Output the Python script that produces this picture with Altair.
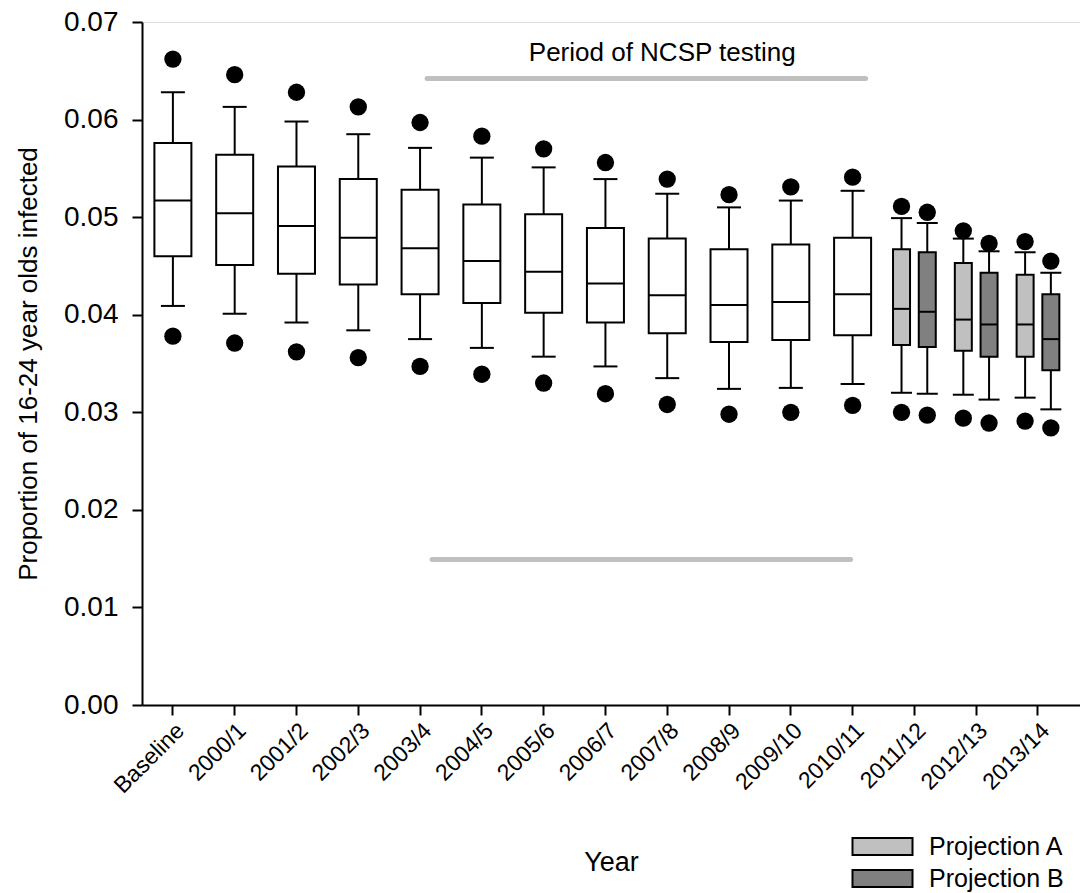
import altair as alt
import pandas as pd

years = ["Baseline", "2000/1", "2001/2", "2002/3", "2003/4", "2004/5", "2005/6",
         "2006/7", "2007/8", "2008/9", "2009/10", "2010/11", "2011/12", "2012/13", "2013/14"]

# Observed (model fit) boxes
obs_years = years[:12]
obs_p95 = [0.0662, 0.0646, 0.0628, 0.0613, 0.0597, 0.0583, 0.0570, 0.0556, 0.0539, 0.0523, 0.0531, 0.0541]
obs_uw  = [0.0628, 0.0613, 0.0598, 0.0585, 0.0571, 0.0561, 0.0551, 0.0539, 0.0524, 0.0510, 0.0517, 0.0527]
obs_q3  = [0.0576, 0.0564, 0.0552, 0.0539, 0.0528, 0.0513, 0.0503, 0.0489, 0.0478, 0.0467, 0.0472, 0.0479]
obs_med = [0.0517, 0.0504, 0.0491, 0.0479, 0.0468, 0.0455, 0.0444, 0.0432, 0.0420, 0.0410, 0.0413, 0.0421]
obs_q1  = [0.0460, 0.0451, 0.0442, 0.0431, 0.0421, 0.0412, 0.0402, 0.0392, 0.0381, 0.0372, 0.0374, 0.0379]
obs_lw  = [0.0409, 0.0401, 0.0392, 0.0384, 0.0375, 0.0366, 0.0357, 0.0347, 0.0335, 0.0324, 0.0325, 0.0329]
obs_p5  = [0.0378, 0.0371, 0.0362, 0.0356, 0.0347, 0.0339, 0.0330, 0.0319, 0.0308, 0.0298, 0.0300, 0.0307]

# Projections
proj_years = ["2011/12", "2011/12", "2012/13", "2012/13", "2013/14", "2013/14"]
proj_group = ["Projection A", "Projection B"] * 3
proj_p95 = [0.0511, 0.0505, 0.0486, 0.0473, 0.0475, 0.0455]
proj_uw  = [0.0499, 0.0494, 0.0478, 0.0465, 0.0464, 0.0443]
proj_q3  = [0.0467, 0.0464, 0.0453, 0.0443, 0.0441, 0.0421]
proj_med = [0.0406, 0.0403, 0.0395, 0.0390, 0.0390, 0.0375]
proj_q1  = [0.0369, 0.0367, 0.0363, 0.0357, 0.0357, 0.0343]
proj_lw  = [0.0320, 0.0319, 0.0318, 0.0313, 0.0315, 0.0303]
proj_p5  = [0.0300, 0.0297, 0.0294, 0.0289, 0.0291, 0.0284]

period_label = "Period of NCSP testing"
period_top = 0.0642
period_bottom = 0.0149

obs = pd.DataFrame({"year": obs_years, "group": "Observed", "p95": obs_p95, "uw": obs_uw,
                    "q3": obs_q3, "med": obs_med, "q1": obs_q1, "lw": obs_lw, "p5": obs_p5})
proj = pd.DataFrame({"year": proj_years, "group": proj_group, "p95": proj_p95, "uw": proj_uw,
                     "q3": proj_q3, "med": proj_med, "q1": proj_q1, "lw": proj_lw, "p5": proj_p5})

FONT = "Liberation Sans"

xscale = alt.Scale(domain=years, paddingInner=0, paddingOuter=0.09, align=0)
yscale = alt.Scale(domain=[0, 0.07], nice=False)
offscale = alt.Scale(domain=["Projection A", "Observed", "Projection B"], paddingInner=0, paddingOuter=0.9)

X = alt.X("year:N", scale=xscale, sort=years,
          axis=alt.Axis(title="Year", labelAngle=-45, labelFontSize=23, labelPadding=4,
                        tickSize=10, tickWidth=2, domainWidth=2, domainColor="black", tickColor="black",
                        labelColor="black", titleFontSize=27, titleFontWeight="normal", titleColor="black",
                        titleY=165, titleBaseline="alphabetic", grid=False))
XO = alt.XOffset("group:N", scale=offscale)
Y_AXIS = alt.Axis(title="Proportion of 16-24 year olds infected", values=[0, 0.01, 0.02, 0.03, 0.04, 0.05, 0.06, 0.07],
                  format=".2f", labelFontSize=28, labelPadding=14, tickSize=10, tickWidth=2, domainWidth=2,
                  domainColor="black", tickColor="black", labelColor="black", titleFontSize=26,
                  titleFontWeight="normal", titleColor="black", titlePadding=22, grid=False)


def boxes(df, box_w, cap_w, fill_enc=None, fill_value="white"):
    base = alt.Chart(df)
    whisk_lo = base.mark_rule(color="black", strokeWidth=2).encode(
        x=X, xOffset=XO, y=alt.Y("lw:Q", scale=yscale, axis=Y_AXIS), y2="q1:Q")
    whisk_hi = base.mark_rule(color="black", strokeWidth=2).encode(
        x=X, xOffset=XO, y=alt.Y("q3:Q", scale=yscale), y2="uw:Q")
    if fill_enc is not None:
        box = base.mark_bar(size=box_w, stroke="black", strokeWidth=2, opacity=1).encode(
            x=X, xOffset=XO, y=alt.Y("q1:Q", scale=yscale), y2="q3:Q", fill=fill_enc)
    else:
        box = base.mark_bar(size=box_w, stroke="black", strokeWidth=2, fill=fill_value, opacity=1).encode(
            x=X, xOffset=XO, y=alt.Y("q1:Q", scale=yscale), y2="q3:Q")
    med = base.mark_tick(size=box_w, thickness=2, color="black", opacity=1).encode(
        x=X, xOffset=XO, y=alt.Y("med:Q", scale=yscale))
    cap_hi = base.mark_tick(size=cap_w, thickness=2, color="black", opacity=1).encode(
        x=X, xOffset=XO, y=alt.Y("uw:Q", scale=yscale))
    cap_lo = base.mark_tick(size=cap_w, thickness=2, color="black", opacity=1).encode(
        x=X, xOffset=XO, y=alt.Y("lw:Q", scale=yscale))
    dot_hi = base.mark_circle(size=300, color="black", opacity=1).encode(
        x=X, xOffset=XO, y=alt.Y("p95:Q", scale=yscale))
    dot_lo = base.mark_circle(size=300, color="black", opacity=1).encode(
        x=X, xOffset=XO, y=alt.Y("p5:Q", scale=yscale))
    return [whisk_lo, whisk_hi, box, med, cap_hi, cap_lo, dot_hi, dot_lo]


fill_enc = alt.Fill("group:N", scale=alt.Scale(domain=["Projection A", "Projection B"],
                                               range=["#c0c0c0", "#808080"]),
                    legend=alt.Legend(title=None, orient="none", legendX=728, legendY=812, padding=0,
                                      symbolType="M-3.53,-1H3.53V1H-3.53Z", symbolSize=289,
                                      symbolStrokeColor="black", symbolStrokeWidth=2, symbolOpacity=1,
                                      labelFontSize=25, labelColor="black", labelOffset=34, rowPadding=6,
                                      labelFont=FONT))

layers = boxes(obs, 37, 24) + boxes(proj, 17, 21, fill_enc=fill_enc)

lines_top = alt.Chart(pd.DataFrame({"start": ["2003/4"], "end": ["2010/11"], "v": [period_top]})).mark_rule(
    color="#c0c0c0", strokeWidth=5, strokeCap="round", xOffset=7, x2Offset=13).encode(
    x=alt.X("start:N", scale=xscale), x2="end:N", y=alt.Y("v:Q", scale=yscale))
lines_bot = alt.Chart(pd.DataFrame({"start": ["2003/4"], "end": ["2010/11"], "v": [period_bottom]})).mark_rule(
    color="#c0c0c0", strokeWidth=5, strokeCap="round", xOffset=12, x2Offset=-2).encode(
    x=alt.X("start:N", scale=xscale), x2="end:N", y=alt.Y("v:Q", scale=yscale))
label = alt.Chart(pd.DataFrame({"year": ["2007/8"], "v": [0.0660], "t": [period_label]})).mark_text(
    fontSize=26, font=FONT, color="black", baseline="alphabetic", align="center", dx=-5).encode(
    x=alt.X("year:N", scale=xscale), y=alt.Y("v:Q", scale=yscale), text="t:N")

chart = alt.layer(*layers, lines_top, lines_bot, label).properties(
    width=938, height=683,
    autosize=alt.AutoSizeParams(type="none"),
    padding={"left": 142, "top": 22, "right": 0, "bottom": 188},
).configure_view(stroke=None).configure(font=FONT, background="white")

chart.save("out.html", embed_options={"renderer": "svg", "actions": False})
